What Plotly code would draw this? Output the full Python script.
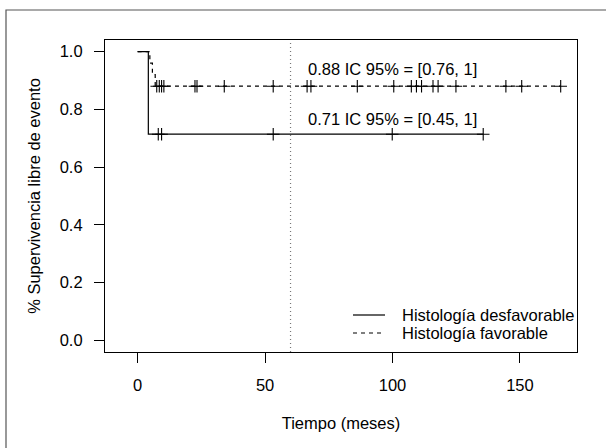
import numpy as np
import plotly.graph_objects as go

# ---- data ----
desf_name = "Histología desfavorable"
fav_name = "Histología favorable"

# Kaplan-Meier step curves (time in months, survival)
desf_t = [0, 4.2, 135.6]
desf_s = [1.0, 0.714, 0.714]
fav_t = [0, 4.8, 5.8, 6.9, 166.0]
fav_s = [1.0, 0.96, 0.92, 0.88, 0.88]

# censoring times
desf_cens = [8.1, 9.4, 53.2, 99.9, 135.6]
fav_cens = [7.5, 8.5, 9.4, 10.3, 22.5, 23.3, 34.0, 53.2, 66.5, 68.0, 86.2,
            100.5, 107.4, 109.4, 111.4, 115.9, 117.9, 124.9, 144.5, 150.7, 166.0]

ref_time = 60
x_ticks = [0, 50, 100, 150]
y_ticks = [0.0, 0.2, 0.4, 0.6, 0.8, 1.0]
y_ticktext = ["0.0", "0.2", "0.4", "0.6", "0.8", "1.0"]

ann_fav = "0.88 IC 95% = [0.76, 1]"
ann_desf = "0.71 IC 95% = [0.45, 1]"
ann_x = 66.0
ann_fav_y = 0.938
ann_desf_y = 0.766


def surv_at(times, steps_t, steps_s):
    idx = np.searchsorted(np.asarray(steps_t), np.asarray(times), side="right") - 1
    return np.asarray(steps_s)[idx]


W, H = 606, 448
ML, MR, MT, MB = 105, 29, 40, 96
PW, PH = W - ML - MR, H - MT - MB


def px(xpix):
    return (xpix - ML) / PW


def py(ypix):
    return (H - MB - ypix) / PH


FONT = "Liberation Sans, Arial, Helvetica, sans-serif"
FS = 16.5
LINE_W = 1.2
FAV_DASH = "4px,4px"

fig = go.Figure()

fig.add_trace(go.Scatter(x=desf_t, y=desf_s, mode="lines", line_shape="hv",
                         line=dict(color="black", width=LINE_W), name=desf_name,
                         showlegend=False))
fig.add_trace(go.Scatter(x=fav_t, y=fav_s, mode="lines", line_shape="hv",
                         line=dict(color="black", width=LINE_W, dash=FAV_DASH), name=fav_name,
                         showlegend=False))
for ct, st, ss in [(desf_cens, desf_t, desf_s), (fav_cens, fav_t, fav_s)]:
    fig.add_trace(go.Scatter(x=ct, y=surv_at(ct, st, ss), mode="markers",
                             marker=dict(symbol="cross-thin-open", size=9, color="black",
                                         line=dict(color="black", width=1.1)),
                             showlegend=False, hoverinfo="skip"))

fig.add_shape(type="line", xref="x", yref="paper", x0=ref_time, x1=ref_time, y0=0, y1=1,
              line=dict(color="#777", width=1.2, dash="1px,3px"))

# outer frame of the figure (only left and top edges fall inside the picture)
fig.add_shape(type="rect", xref="paper", yref="paper",
              x0=px(6), x1=px(660), y0=py(500), y1=py(10),
              line=dict(color="#555", width=1.2), layer="below")

for txt, yy in [(ann_fav, ann_fav_y), (ann_desf, ann_desf_y)]:
    fig.add_annotation(x=ann_x, y=yy, text=txt, showarrow=False, xanchor="left",
                       yanchor="middle", font=dict(size=FS, color="black", family=FONT))

# legend (R-style, no box)
for name, dash, ypix in [(desf_name, "solid", 315), (fav_name, FAV_DASH, 333)]:
    fig.add_shape(type="line", xref="paper", yref="paper",
                  x0=px(353), x1=px(385), y0=py(ypix), y1=py(ypix),
                  line=dict(color="black", width=LINE_W, dash=dash))
    fig.add_annotation(xref="paper", yref="paper", x=px(400), y=py(ypix), text=name,
                       showarrow=False, xanchor="left", yanchor="middle",
                       font=dict(size=FS, color="black", family=FONT))

axis_common = dict(showline=True, mirror=True, linecolor="black", linewidth=1.2,
                   ticks="outside", ticklen=10, tickwidth=1.2, tickcolor="black",
                   showgrid=False, zeroline=False,
                   tickfont=dict(size=FS, color="black", family=FONT))

fig.update_xaxes(range=[-12.8, 172.4], tickvals=x_ticks, ticklabelstandoff=8,
                 title=dict(text="Tiempo (meses)", standoff=24,
                            font=dict(size=FS, color="black", family=FONT)),
                 **axis_common)
fig.update_yaxes(range=[-0.04, 1.04], tickvals=y_ticks, ticktext=y_ticktext,
                 ticklabelstandoff=8,
                 title=dict(text="% Supervivencia libre de evento", standoff=14,
                            font=dict(size=FS, color="black", family=FONT)),
                 **axis_common)

fig.update_layout(width=W, height=H,
                  margin=dict(l=ML, r=MR, t=MT, b=MB),
                  paper_bgcolor="white", plot_bgcolor="white",
                  font=dict(family=FONT, size=FS, color="black"),
                  showlegend=False)

fig.write_html("out.html", config={"displayModeBar": False},
               post_script="document.body.style.margin='0';"
                           "document.body.style.overflow='hidden';")
